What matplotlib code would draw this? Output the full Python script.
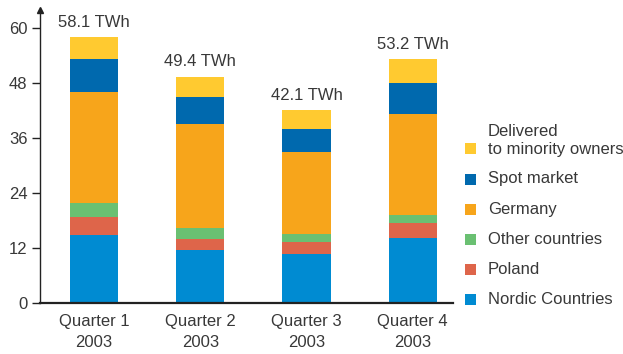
import matplotlib
matplotlib.use("Agg")
import matplotlib.pyplot as plt
from matplotlib.patches import Rectangle
import numpy as np

plt.rcParams["font.family"] = ["Liberation Sans", "DejaVu Sans"]

categories = ["Quarter 1\n2003", "Quarter 2\n2003", "Quarter 3\n2003", "Quarter 4\n2003"]
totals_labels = ["58.1 TWh", "49.4 TWh", "42.1 TWh", "53.2 TWh"]
series_names = ["Nordic Countries", "Poland", "Other countries", "Germany",
                "Spot market", "Delivered\nto minority owners"]
nordic = [14.8, 11.6, 10.6, 14.2]
poland = [3.9, 2.3, 2.7, 3.2]
other = [3.1, 2.4, 1.7, 1.8]
germany = [24.3, 22.7, 18.0, 22.1]
spot = [7.2, 6.0, 5.0, 6.7]
delivered = [4.8, 4.4, 4.1, 5.2]
yticks = [0, 12, 24, 36, 48, 60]

colors = ["#008BD2", "#DE654A", "#6AC072", "#F7A51B", "#0069AE", "#FFCA30"]
text_color = "#383838"
fs = 12

W, H = 623, 354
fig = plt.figure(figsize=(W / 100, H / 100), dpi=100)
ax_left, ax_right = 40, 453
ax_bottom, ax_top = 302.7, 10
ax = fig.add_axes([ax_left / W, 1 - ax_bottom / H, (ax_right - ax_left) / W, (ax_bottom - ax_top) / H])

x = np.arange(len(categories))
width = 0.453
series = [nordic, poland, other, germany, spot, delivered]
bottom = np.zeros(len(categories))
for vals, c in zip(series, colors):
    ax.bar(x, vals, width, bottom=bottom, color=c, linewidth=0)
    bottom += np.array(vals)

for xi, top, lab in zip(x, bottom, totals_labels):
    ax.annotate(lab, (xi, top), xytext=(0, 7.5), textcoords="offset points",
                ha="center", va="baseline", fontsize=fs, color=text_color)

ax.set_xlim(-0.509, 3.38)
ax.set_ylim(0, 64)
ax.set_yticks(yticks)
ax.set_yticklabels([str(v) for v in yticks], fontsize=fs, color=text_color)
ax.set_xticks(x)
ax.set_xticklabels(categories, fontsize=fs, color=text_color, linespacing=1.55)
ax.tick_params(axis="x", length=0, pad=8)
ax.tick_params(axis="y", length=6, width=1, color="#222222", pad=3)
for s in ["top", "right"]:
    ax.spines[s].set_visible(False)
ax.spines["left"].set_color("#222222")
ax.spines["bottom"].set_color("#222222")
ax.spines["bottom"].set_linewidth(1.6)
ax.spines["left"].set_linewidth(1.0)
ax.plot([-0.509], [64], marker="^", color="#222222", markersize=5, clip_on=False)

# legend (manual)
legend_rows = [149, 179, 209, 239, 269, 299]
legend_order = [5, 4, 3, 2, 1, 0]
for yrow, idx in zip(legend_rows, legend_order):
    fig.add_artist(Rectangle((465 / W, 1 - (yrow + 5.5) / H), 11 / W, 11 / H,
                             transform=fig.transFigure, color=colors[idx], linewidth=0))
    if idx == 5:
        first, second = series_names[idx].split("\n")
        fig.text(488 / W, 1 - 131 / H, first, fontsize=fs, color=text_color, va="center")
        fig.text(488 / W, 1 - yrow / H, second, fontsize=fs, color=text_color, va="center")
    else:
        fig.text(488 / W, 1 - yrow / H, series_names[idx], fontsize=fs, color=text_color, va="center")

fig.savefig("out.png", dpi=100)
